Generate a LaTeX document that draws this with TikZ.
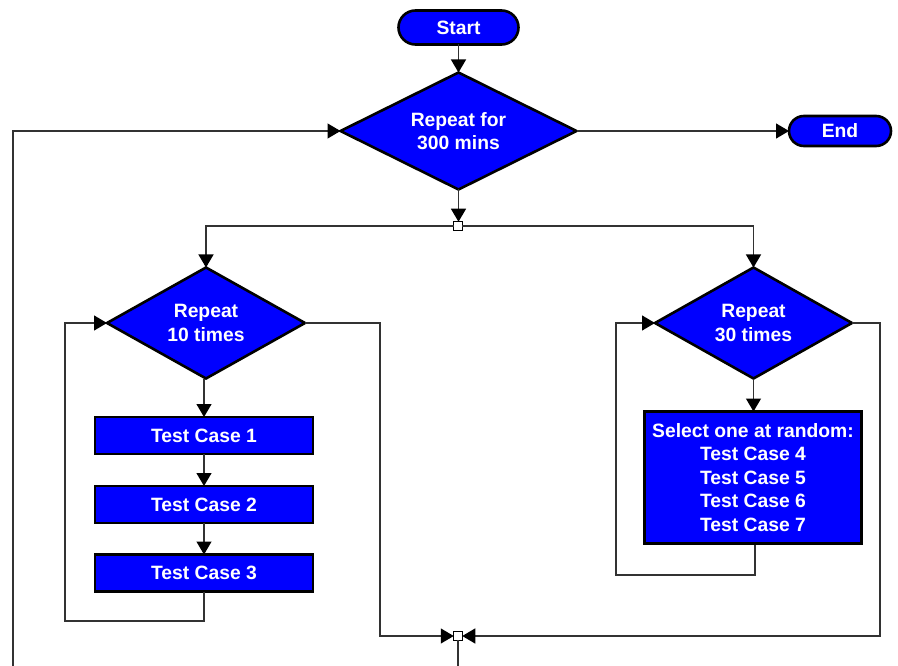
\documentclass[tikz,border=0pt]{standalone}
\usepackage{fontspec}
\setmainfont{Liberation Sans}
\usetikzlibrary{shapes.geometric,shapes.misc,arrows.meta}
\definecolor{flowblue}{RGB}{0,0,255}
\definecolor{linegrey}{RGB}{50,50,50}
\tikzset{
  x=1pt,y=-1pt,
  base/.style={draw=black,line width=2.6pt,fill=flowblue,text=white,font=\fontsize{19.3}{23.5}\selectfont\bfseries,align=center,inner sep=0pt,outer sep=0pt},
  term/.style={base,rounded rectangle,minimum height=#1},
  dec/.style n args={3}{base,diamond,aspect=#3,minimum width=#1,minimum height=#2},
  proc/.style n args={2}{base,rectangle,minimum width=#1,minimum height=#2},
  junc/.style={draw=black,fill=white,line width=1pt,minimum size=8.5pt,inner sep=0pt,outer sep=0pt},
  conn/.style={draw=linegrey,line width=1.3pt},
  arr/.style={conn,-{Triangle[length=13pt,width=15pt,color=black]}},
}
\begin{document}
\begin{tikzpicture}
\useasboundingbox (0,0) rectangle (898,666);
\node[term=34pt,minimum width=120pt] (start) at (458.5,27.5) {Start};
\node[dec={236}{117}{2.017}] (main) at (458.5,131) {Repeat for\\300 mins};
\node[term=30pt,minimum width=102pt] (end) at (840,131) {End};
\node[junc] (jtop) at (458,226) {};
\node[dec={198}{111}{1.784}] (ltimes) at (206,323) {Repeat\\10 times};
\node[dec={197}{111}{1.775}] (rtimes) at (753.5,323) {Repeat\\30 times};
\node[proc={218}{37}] (tc1) at (204,435.5) {Test Case 1};
\node[proc={218}{37}] (tc2) at (204,504.5) {Test Case 2};
\node[proc={218}{37}] (tc3) at (204,573) {Test Case 3};
\node[proc={217}{132}] (sel) at (753,477.5) {Select one at random:\\Test Case 4\\Test Case 5\\Test Case 6\\Test Case 7};
\node[junc] (jbot) at (458,636) {};
\coordinate (offb) at (458,668);
\coordinate (offl) at (13,668);
\coordinate (lc1) at (204,621);
\coordinate (lc2) at (65,621);
\coordinate (rc0) at (755,545);
\coordinate (rc1) at (755,575);
\coordinate (rc2) at (616,575);
\coordinate (lo) at (380,636);
\coordinate (ro) at (880,636);
\draw[arr] (start) -- (start |- main.north);
\draw[arr] (main.east) -- (end.west);
\draw[arr] (main.south) -- (main.south |- jtop.north);
\draw[arr] (jtop.west) -| (ltimes.north);
\draw[arr] (jtop.east) -| (rtimes.north);
\draw[arr] (tc1.north |- ltimes.south) -- (tc1.north);
\draw[arr] (tc1) -- (tc2);
\draw[arr] (tc2) -- (tc3);
\draw[arr] (rtimes.south) -- (rtimes.south |- sel.north);
\draw[arr] (tc3.south) -- (lc1) -- (lc2) |- (ltimes.west);
\draw[arr] (rc0) -- (rc1) -- (rc2) |- (rtimes.west);
\draw[arr] (ltimes.east) -| (lo) -- (jbot.west);
\draw[arr] (rtimes.east) -| (ro) -- (jbot.east);
\draw[conn] (jbot.south) -- (offb);
\draw[arr] (offl) |- (main.west);
\end{tikzpicture}
\end{document}
